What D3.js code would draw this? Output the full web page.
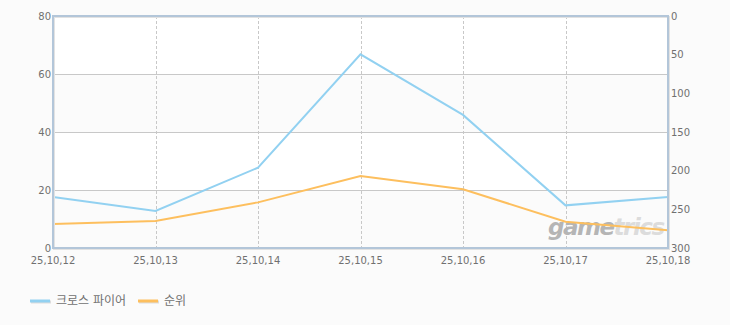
<!DOCTYPE html>
<html>
<head>
<meta charset="utf-8">
<script src="https://cdn.jsdelivr.net/npm/d3@7"></script>
<style>
  body { margin: 0; background: #fbfbfb; }
  text { font-family: "DejaVu Sans", "Noto Sans CJK KR", sans-serif; font-size: 10px; fill: #707070; }
</style>
</head>
<body>
<div id="chart"></div>
<script>
// data
var dates = ["25,10,12", "25,10,13", "25,10,14", "25,10,15", "25,10,16", "25,10,17", "25,10,18"];
var players = [17.6, 12.8, 27.7, 66.8, 45.9, 14.7, 17.6];
var ranks = [269, 265, 241, 207, 224, 266, 277];
var leftTicks = [0, 20, 40, 60, 80];
var rightTicks = [0, 50, 100, 150, 200, 250, 300];
var seriesNames = ["크로스 파이어", "순위"];
var colors = ["#92d1f1", "#fdbf5e"];

var width = 730, height = 325;
var m = {left: 53, right: 62, top: 16, bottom: 77};

var svg = d3.select("#chart").append("svg")
    .attr("width", width)
    .attr("height", height);

var x = d3.scalePoint().domain(dates).range([m.left, width - m.right]);
var yL = d3.scaleLinear().domain([0, 80]).range([height - m.bottom, m.top]);
var yR = d3.scaleLinear().domain([0, 300]).range([m.top, height - m.bottom]);

// bands
svg.append("g").selectAll("rect")
    .data(d3.pairs(leftTicks))
    .enter().append("rect")
      .attr("x", m.left)
      .attr("width", width - m.right - m.left)
      .attr("y", function(d) { return yL(d[1]); })
      .attr("height", function(d) { return yL(d[0]) - yL(d[1]); })
      .attr("fill", function(d, i) { return i % 2 == 0 ? "#fbfbfb" : "#ffffff"; });

// horizontal grid
svg.append("g").selectAll("line")
    .data(leftTicks.slice(1, -1))
    .enter().append("line")
      .attr("x1", m.left).attr("x2", width - m.right)
      .attr("y1", function(d) { return yL(d) + 0.5; })
      .attr("y2", function(d) { return yL(d) + 0.5; })
      .attr("stroke", "#c8c8c8");

// vertical dashed grid
svg.append("g").selectAll("line")
    .data(dates.slice(1, -1))
    .enter().append("line")
      .attr("x1", function(d) { return Math.round(x(d)) + 0.5; })
      .attr("x2", function(d) { return Math.round(x(d)) + 0.5; })
      .attr("y1", m.top).attr("y2", height - m.bottom)
      .attr("stroke", "#c8c8c8")
      .attr("stroke-dasharray", "3,2");

// watermark
var wm = svg.append("text")
    .attr("x", 548).attr("y", 235)
    .style("font-size", "23px")
    .style("font-style", "italic")
    .style("font-weight", "bold")
    .style("letter-spacing", "-1.5px")
    .style("font-family", "'DejaVu Sans', sans-serif");
wm.append("tspan").text("game").style("fill", "#b5b5b5");
wm.append("tspan").text("trics").style("fill", "#dcdcdc");

// lines
var line1 = d3.line()
    .x(function(d, i) { return x(dates[i]); })
    .y(function(d) { return yL(d); });
var line2 = d3.line()
    .x(function(d, i) { return x(dates[i]); })
    .y(function(d) { return yR(d); });

svg.append("path")
    .datum(players)
    .attr("d", line1)
    .attr("fill", "none")
    .attr("stroke", colors[0])
    .attr("stroke-width", 2);

svg.append("path")
    .datum(ranks)
    .attr("d", line2)
    .attr("fill", "none")
    .attr("stroke", colors[1])
    .attr("stroke-width", 2);

// frame with shadow
var fx = m.left, fy = m.top, fw = width - m.right - m.left, fh = height - m.bottom - m.top;
svg.append("rect")
    .attr("x", fx + 1).attr("y", fy + 1)
    .attr("width", fw).attr("height", fh)
    .attr("fill", "none")
    .attr("stroke", "#e2e2e2")
    .attr("stroke-width", 2);
svg.append("rect")
    .attr("x", fx).attr("y", fy)
    .attr("width", fw).attr("height", fh)
    .attr("fill", "none")
    .attr("stroke", "#b3c6d9")
    .attr("stroke-width", 2);

// axis labels
svg.append("g").selectAll("text")
    .data(leftTicks)
    .enter().append("text")
      .attr("x", m.left - 2)
      .attr("y", function(d) { return yL(d) + 3.5; })
      .attr("text-anchor", "end")
      .text(function(d) { return d; });

svg.append("g").selectAll("text")
    .data(rightTicks)
    .enter().append("text")
      .attr("x", width - m.right + 3)
      .attr("y", function(d) { return yR(d) + 3.5; })
      .text(function(d) { return d; });

svg.append("g").selectAll("text")
    .data(dates)
    .enter().append("text")
      .attr("x", function(d) { return x(d); })
      .attr("y", height - m.bottom + 16)
      .attr("text-anchor", "middle")
      .text(function(d) { return d; });

// legend
var lx = [30, 138];
var legend = svg.append("g").selectAll("g")
    .data(seriesNames)
    .enter().append("g")
      .attr("transform", function(d, i) { return "translate(" + lx[i] + ",301)"; });
legend.append("line")
    .attr("x1", 1).attr("x2", 21).attr("y1", 1).attr("y2", 1)
    .attr("stroke", "#dddddd").attr("stroke-width", 3);
legend.append("line")
    .attr("x1", 0).attr("x2", 20).attr("y1", 0).attr("y2", 0)
    .attr("stroke", function(d, i) { return colors[i]; })
    .attr("stroke-width", 3);
legend.append("text")
    .attr("x", 26).attr("y", 4)
    .style("font-size", "12px")
    .text(function(d) { return d; });
</script>
</body>
</html>
